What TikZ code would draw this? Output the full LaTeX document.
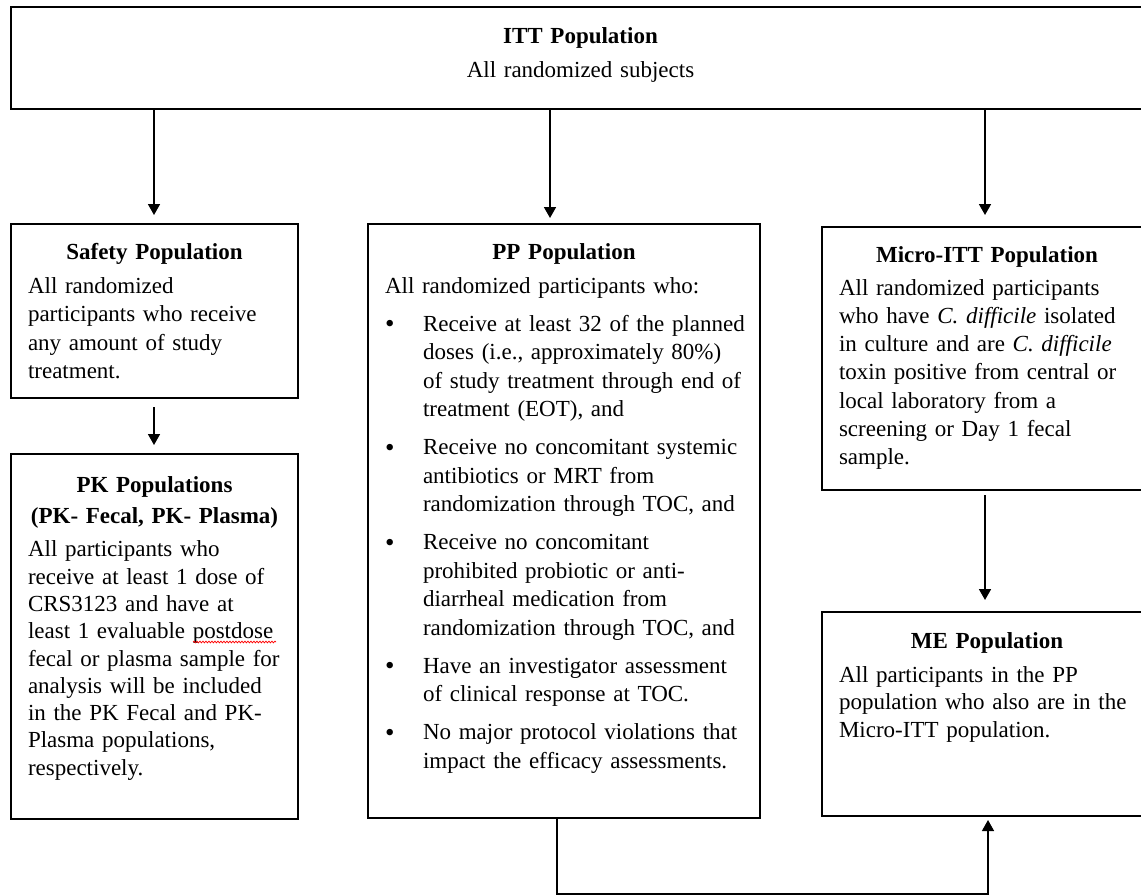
\documentclass[tikz,border=0pt]{standalone}
\usepackage{fontspec}
\setmainfont{Liberation Serif}
\usetikzlibrary{arrows.meta,decorations.pathmorphing}
\tikzset{
  popbox/.style={draw=black, line width=2pt, inner sep=0pt, outer sep=0pt, anchor=north west},
  poptext/.style={inner sep=0pt, outer sep=0pt, anchor=base west, text width=#1, font=\fontsize{23}{28.5}\selectfont},
  link/.style={line width=1.7pt, -{Triangle[width=12pt,length=11pt]}},
  spellmark/.style={draw=red, line width=0.7pt, decorate, decoration={snake, amplitude=0.9pt, segment length=3pt}},
}
\newcommand\boxtitle[2]{\noindent\makebox[#1][c]{\bfseries #2}\par}
\newcommand\bitem{\par\vspace{9.5pt}\hangindent=38pt\hangafter=1\noindent\makebox[38pt][l]{\raisebox{-1.5pt}{\fontsize{27}{28.5}\selectfont\textbullet}}}
\begin{document}
\begin{tikzpicture}[x=1pt, y=-1pt]
\useasboundingbox (0,0) rectangle (1141,895);
\clip (0,0) rectangle (1141,895);
\fill[white] (0,0) rectangle (1141,895);

% boxes
\node[popbox, minimum width=1139pt, minimum height=102pt] (itt) at (11,7) {};
\node[popbox, minimum width=287pt, minimum height=174pt] (safety) at (11,224) {};
\node[popbox, minimum width=287pt, minimum height=365pt] (pk) at (11,454) {};
\node[popbox, minimum width=392pt, minimum height=594pt] (pp) at (368,224) {};
\node[popbox, minimum width=330pt, minimum height=263pt] (micro) at (822,227) {};
\node[popbox, minimum width=330pt, minimum height=204pt] (me) at (822,612) {};

% texts
\node[poptext=600pt, anchor=base] (itttxt) at (580.5,43)
  {\centering\textbf{ITT Population}\par\vspace{5.5pt}All randomized subjects\par};

\node[poptext=290pt] (safetytxt) at (28,259)
  {\boxtitle{253pt}{Safety Population}\vspace{5.5pt}\noindent
   All randomized\newline participants who receive\newline any amount of study\newline treatment.\par};

\node[poptext=290pt, font=\fontsize{23}{27.3}\selectfont] (pktxt) at (28,492)
  {\boxtitle{253pt}{PK Populations}\vspace{4.5pt}\boxtitle{253pt}{(PK- Fecal, PK- Plasma)}\vspace{5.7pt}\noindent
   All participants who\newline receive at least 1 dose of\newline CRS3123 and have at\newline least 1 evaluable postdose\newline
   fecal or plasma sample for\newline analysis will be included\newline in the PK Fecal and PK-\newline
   Plasma populations,\newline respectively.\par};

\node[poptext=400pt] (pptxt) at (385,259)
  {\boxtitle{358pt}{PP Population}\vspace{5.5pt}\noindent All randomized participants who:
   \bitem Receive at least 32 of the planned\newline doses (i.e., approximately 80\%)\newline of study treatment through end of\newline treatment (EOT), and
   \bitem Receive no concomitant systemic\newline antibiotics or MRT from\newline randomization through TOC, and
   \bitem Receive no concomitant\newline prohibited probiotic or anti-\newline diarrheal medication from\newline randomization through TOC, and
   \bitem Have an investigator assessment\newline of clinical response at TOC.
   \bitem No major protocol violations that\newline impact the efficacy assessments.\par};

\node[poptext=330pt, font=\fontsize{23}{28.3}\selectfont] (microtxt) at (839,262)
  {\boxtitle{296pt}{Micro-ITT Population}\vspace{4.7pt}\noindent
   All randomized participants\newline who have \textit{C. difficile} isolated\newline in culture and are \textit{C. difficile}\newline
   toxin positive from central or\newline local laboratory from a\newline screening or Day 1 fecal\newline sample.\par};

\node[poptext=330pt, font=\fontsize{23}{27.5}\selectfont] (metxt) at (839,648)
  {\boxtitle{296pt}{ME Population}\vspace{6.5pt}\noindent
   All participants in the PP\newline population who also are in the\newline Micro-ITT population.\par};

% spell-check mark under "postdose"
\draw[spellmark] (193,642) -- (276,642);

% connectors
\coordinate (xs) at (154,0);
\coordinate (xp) at (550,0);
\coordinate (xm) at (985,0);
\coordinate (bl) at (557,894);
\coordinate (br) at (988,894);
\draw[link, shorten >=9pt] (itt.south -| xs) -- (safety.north -| xs);
\draw[link, shorten >=6pt] (itt.south -| xp) -- (pp.north -| xp);
\draw[link, shorten >=12pt] (itt.south -| xm) -- (micro.north -| xm);
\draw[link, shorten <=9pt, shorten >=9pt] (safety.south -| xs) -- (pk.north -| xs);
\draw[link, shorten <=5pt, shorten >=12pt] (micro.south -| xm) -- (me.north -| xm);
\draw[link, line width=1.4pt, shorten >=4pt] (pp.south -| bl) -- (bl) -- (br) -- (me.south -| br);
\end{tikzpicture}
\end{document}
